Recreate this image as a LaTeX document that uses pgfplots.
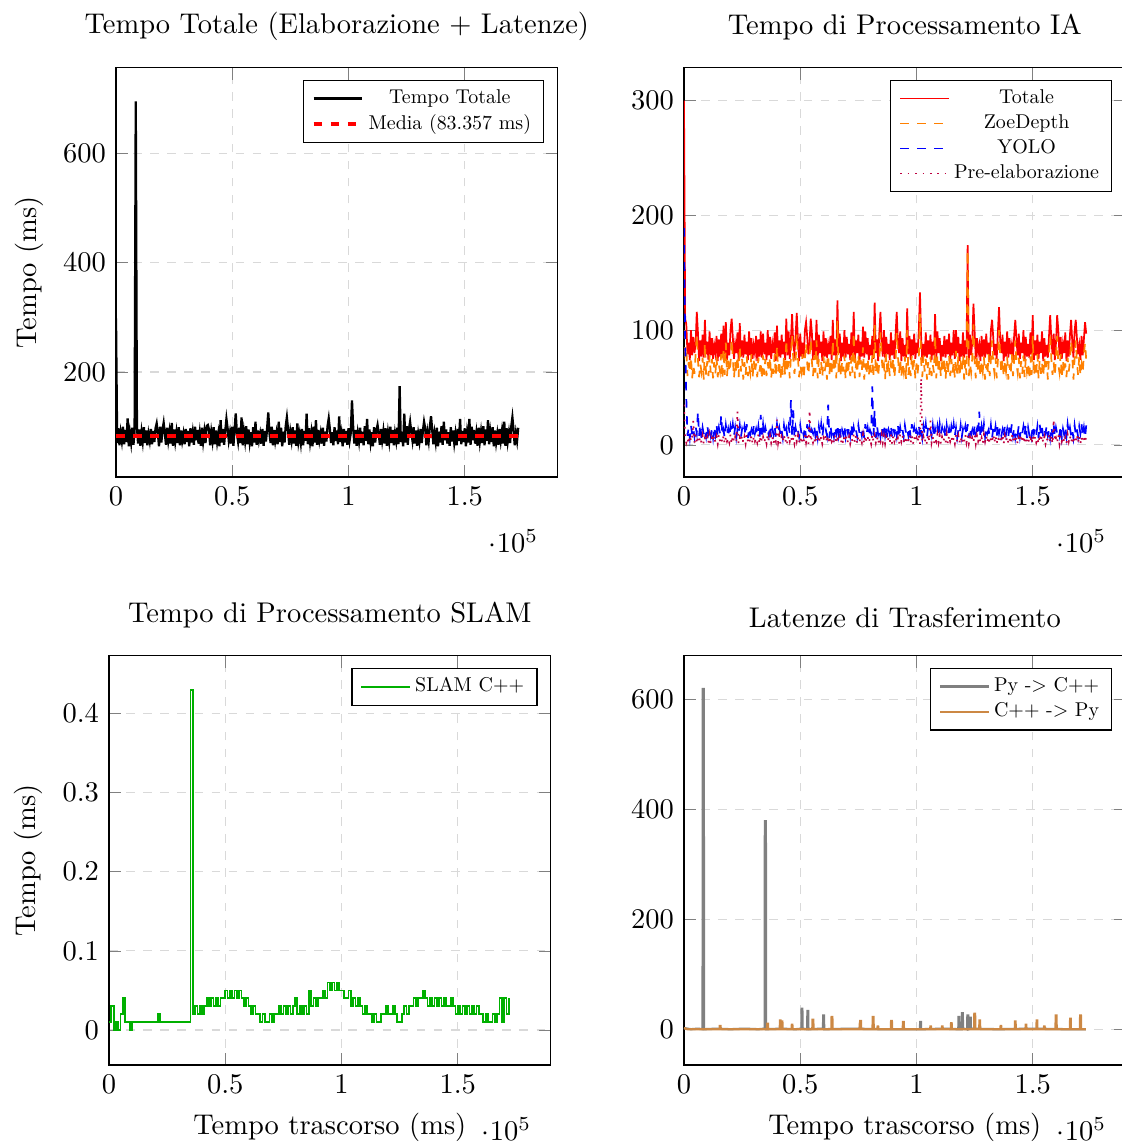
\documentclass[border=0pt]{standalone}
\usepackage{graphicx}
\usepackage{pgfplots}
\pgfplotsset{compat=1.18}
\newcommand{\legtxt}[1]{\scalebox{0.7}{\normalsize #1}}
\definecolor{cpyc}{RGB}{128,128,128}
\definecolor{ccpy}{RGB}{204,136,68}
\definecolor{slamgreen}{RGB}{0,176,0}
\pgfplotsset{
  common/.style={
    scale only axis, width=155pt, height=143.7pt,
    anchor=south west,
    grid=major, grid style={dashed, gray!30},
    legend style={at={(0.97,0.97)}, anchor=north east, font=\scriptsize, nodes={inner xsep=1.5pt, inner ysep=1.2pt, text depth=0.15em}},
    legend cell align=center,
    xmin=0, xmax=190000,
  },
}
\begin{document}
\begin{tikzpicture}
% ---------- Top left ----------
\begin{axis}[common, at={(40.70pt,234.04pt)},
  title={Tempo Totale (Elaborazione + Latenze)},
  ylabel={Tempo (ms)}, ymin=8, ymax=757]
\addplot[black, thick, no markers] table[row sep=\\, header=false, x expr=\coordindex*500, y index=0] {
298\\70\\97\\66\\89\\74\\100\\68\\94\\72\\
115\\64\\88\\71\\98\\67\\91\\695\\101\\69\\
95\\65\\90\\73\\99\\70\\93\\66\\87\\74\\
96\\68\\92\\72\\97\\106\\89\\64\\100\\71\\
94\\107\\88\\67\\98\\75\\91\\69\\107\\65\\
95\\73\\90\\70\\99\\66\\93\\74\\87\\68\\
96\\72\\92\\64\\97\\71\\89\\67\\100\\75\\
94\\69\\88\\65\\98\\73\\91\\70\\101\\103\\
95\\66\\90\\74\\99\\68\\93\\72\\87\\64\\
112\\71\\96\\67\\92\\114\\97\\75\\89\\69\\
100\\65\\94\\124\\88\\73\\98\\70\\117\\66\\
91\\74\\101\\68\\95\\72\\90\\64\\99\\71\\
109\\67\\93\\75\\87\\69\\96\\65\\92\\73\\
97\\126\\89\\70\\100\\66\\94\\74\\88\\68\\
109\\72\\98\\64\\91\\71\\101\\117\\95\\67\\
90\\75\\99\\69\\93\\65\\106\\73\\87\\70\\
96\\66\\92\\74\\124\\68\\97\\72\\89\\64\\
100\\71\\112\\67\\94\\75\\88\\69\\98\\65\\
91\\73\\101\\115\\95\\70\\90\\66\\99\\74\\
93\\68\\119\\72\\87\\64\\96\\71\\92\\67\\
97\\75\\89\\148\\100\\69\\94\\65\\88\\73\\
98\\70\\91\\66\\101\\74\\114\\68\\95\\72\\
90\\64\\99\\71\\93\\103\\87\\67\\96\\75\\
92\\69\\97\\65\\89\\73\\100\\70\\94\\66\\
88\\74\\98\\68\\174\\72\\91\\64\\124\\71\\
101\\67\\95\\109\\90\\75\\99\\69\\93\\65\\
87\\73\\96\\70\\92\\109\\97\\66\\89\\74\\
100\\119\\94\\68\\88\\72\\98\\64\\91\\71\\
101\\67\\109\\75\\95\\69\\90\\65\\99\\73\\
93\\70\\87\\66\\96\\74\\114\\68\\92\\72\\
97\\64\\89\\71\\114\\67\\100\\75\\94\\69\\
88\\65\\98\\73\\91\\70\\101\\66\\95\\74\\
112\\68\\90\\72\\99\\64\\93\\71\\87\\67\\
96\\75\\92\\69\\109\\65\\97\\73\\89\\70\\
100\\117\\94\\66\\88\\74\\98\\
};
\addlegendentry{\legtxt{Tempo Totale}}
\addplot[red, dashed, line width=1.4pt, no markers] coordinates {(0,83.357) (173000,83.357)};
\addlegendentry{\legtxt{Media (83.357 ms)}}
\end{axis}
% ---------- Top right ----------
\begin{axis}[common, at={(240.00pt,234.04pt)},
  title={Tempo di Processamento IA},
  ymin=-28, ymax=329]
\addplot[red, semithick, no markers] table[row sep=\\, header=false, x expr=\coordindex*500, y index=0] {
300\\110\\105\\79\\89\\74\\100\\78\\94\\80\\
88\\116\\98\\73\\91\\77\\96\\76\\109\\79\\
90\\74\\99\\78\\93\\75\\87\\80\\95\\73\\
92\\77\\97\\76\\104\\79\\107\\74\\89\\78\\
100\\110\\94\\75\\88\\80\\98\\73\\106\\77\\
91\\76\\96\\79\\90\\74\\99\\78\\93\\75\\
87\\80\\95\\73\\92\\77\\99\\76\\97\\79\\
89\\74\\100\\78\\94\\75\\88\\80\\98\\73\\
104\\77\\91\\76\\96\\79\\90\\74\\110\\78\\
99\\75\\93\\114\\87\\80\\95\\115\\92\\73\\
97\\77\\89\\76\\100\\107\\94\\79\\88\\110\\
98\\74\\91\\78\\109\\75\\96\\80\\90\\73\\
99\\77\\93\\76\\87\\79\\95\\74\\109\\78\\
92\\75\\126\\80\\97\\73\\89\\77\\100\\76\\
94\\79\\88\\74\\98\\78\\116\\75\\91\\80\\
96\\73\\90\\77\\103\\76\\99\\79\\93\\74\\
87\\78\\95\\75\\124\\80\\92\\73\\97\\116\\
89\\77\\100\\76\\94\\79\\88\\74\\98\\78\\
91\\75\\96\\116\\90\\80\\99\\73\\93\\77\\
87\\76\\119\\79\\95\\74\\92\\78\\97\\75\\
89\\80\\100\\133\\94\\73\\88\\77\\98\\76\\
91\\79\\96\\74\\90\\78\\114\\75\\99\\80\\
93\\73\\87\\77\\95\\76\\92\\79\\97\\74\\
89\\78\\100\\75\\100\\80\\94\\73\\88\\77\\
98\\76\\91\\79\\174\\74\\96\\78\\90\\123\\
99\\75\\93\\80\\87\\73\\95\\77\\92\\76\\
97\\79\\89\\74\\100\\109\\94\\78\\88\\75\\
98\\120\\91\\80\\96\\73\\90\\77\\99\\76\\
93\\79\\87\\74\\95\\109\\92\\78\\97\\75\\
89\\80\\100\\73\\94\\77\\88\\76\\98\\79\\
113\\74\\91\\78\\96\\75\\90\\80\\99\\73\\
93\\77\\87\\76\\95\\113\\92\\79\\97\\74\\
89\\113\\100\\78\\94\\75\\88\\80\\98\\73\\
91\\77\\96\\109\\90\\76\\99\\109\\93\\79\\
87\\74\\95\\78\\92\\107\\97\\
};
\addlegendentry{\legtxt{Totale}}
\addplot[orange, semithick, dashed, no markers] table[row sep=\\, header=false, x expr=\coordindex*500, y index=0] {
100\\80\\85\\60\\72\\63\\77\\58\\70\\62\\
79\\96\\74\\59\\71\\64\\76\\57\\89\\61\\
73\\60\\78\\63\\75\\58\\72\\62\\77\\59\\
70\\64\\79\\57\\84\\61\\89\\60\\74\\63\\
71\\92\\76\\58\\73\\62\\78\\59\\86\\64\\
75\\57\\72\\61\\77\\60\\70\\63\\79\\58\\
74\\62\\71\\59\\76\\64\\73\\57\\78\\61\\
75\\60\\72\\63\\77\\58\\70\\62\\79\\59\\
86\\64\\74\\57\\71\\61\\76\\60\\92\\63\\
73\\58\\78\\96\\75\\62\\72\\97\\77\\59\\
70\\64\\79\\57\\74\\89\\71\\61\\76\\92\\
73\\60\\78\\63\\91\\58\\75\\62\\72\\59\\
77\\64\\70\\57\\79\\61\\74\\60\\91\\63\\
71\\58\\108\\62\\76\\59\\73\\64\\78\\57\\
75\\61\\72\\60\\77\\63\\98\\58\\70\\62\\
79\\59\\74\\64\\85\\57\\71\\61\\76\\60\\
73\\63\\78\\58\\105\\62\\75\\59\\72\\98\\
77\\64\\70\\57\\79\\61\\74\\60\\71\\63\\
76\\58\\73\\98\\78\\62\\75\\59\\72\\64\\
77\\57\\100\\61\\70\\60\\79\\63\\74\\58\\
71\\62\\76\\114\\73\\59\\78\\64\\75\\57\\
72\\61\\77\\60\\70\\63\\96\\58\\79\\62\\
74\\59\\71\\64\\76\\57\\73\\61\\78\\60\\
75\\63\\72\\58\\82\\62\\77\\59\\70\\64\\
79\\57\\74\\61\\170\\60\\71\\63\\76\\105\\
73\\58\\78\\62\\75\\59\\72\\64\\77\\57\\
70\\61\\79\\60\\74\\91\\71\\63\\76\\58\\
73\\100\\78\\62\\75\\59\\72\\64\\77\\57\\
70\\61\\79\\60\\74\\91\\71\\63\\76\\58\\
73\\62\\78\\59\\75\\64\\72\\57\\77\\61\\
95\\60\\70\\63\\79\\58\\74\\62\\71\\59\\
76\\64\\73\\57\\78\\95\\75\\61\\72\\60\\
77\\95\\70\\63\\79\\58\\74\\62\\71\\59\\
76\\64\\73\\91\\78\\57\\75\\91\\72\\61\\
77\\60\\70\\63\\79\\89\\74\\
};
\addlegendentry{\legtxt{ZoeDepth}}
\addplot[blue, semithick, dashed, no markers] table[row sep=\\, header=false, x expr=\coordindex*500, y index=0] {
189\\90\\40\\8\\15\\6\\17\\9\\14\\7\\
16\\10\\29\\8\\18\\6\\15\\9\\13\\7\\
17\\10\\15\\8\\14\\6\\16\\9\\18\\7\\
15\\10\\26\\8\\13\\6\\17\\9\\14\\7\\
16\\10\\18\\8\\15\\6\\13\\9\\17\\7\\
14\\10\\16\\8\\18\\6\\15\\9\\13\\7\\
17\\10\\14\\8\\16\\6\\26\\9\\18\\7\\
15\\10\\13\\8\\17\\6\\14\\9\\16\\7\\
18\\10\\15\\8\\13\\6\\17\\9\\14\\7\\
16\\10\\39\\8\\30\\6\\15\\9\\13\\7\\
17\\10\\14\\8\\16\\6\\18\\9\\15\\7\\
13\\10\\17\\8\\14\\6\\16\\9\\18\\7\\
15\\10\\13\\8\\35\\6\\17\\9\\14\\7\\
16\\10\\18\\8\\15\\6\\13\\9\\17\\7\\
14\\10\\16\\8\\18\\6\\15\\9\\13\\7\\
17\\10\\14\\8\\16\\6\\18\\9\\15\\7\\
13\\10\\51\\8\\30\\6\\17\\9\\14\\7\\
16\\10\\18\\8\\15\\6\\13\\9\\17\\7\\
14\\10\\16\\8\\18\\6\\15\\9\\13\\7\\
17\\10\\14\\8\\16\\6\\18\\9\\15\\7\\
13\\10\\17\\8\\14\\6\\16\\9\\18\\7\\
15\\10\\13\\8\\17\\6\\14\\9\\16\\7\\
18\\10\\15\\8\\13\\6\\17\\9\\14\\7\\
16\\10\\18\\8\\15\\6\\13\\9\\17\\7\\
14\\10\\16\\8\\18\\6\\15\\9\\13\\7\\
17\\10\\14\\8\\29\\6\\16\\9\\18\\7\\
15\\10\\13\\8\\17\\6\\14\\9\\16\\7\\
18\\10\\15\\8\\13\\6\\17\\9\\14\\7\\
16\\10\\18\\8\\15\\6\\13\\9\\17\\7\\
14\\10\\16\\8\\18\\6\\15\\9\\13\\7\\
17\\10\\14\\8\\16\\6\\18\\9\\15\\7\\
13\\10\\17\\8\\14\\6\\16\\9\\18\\7\\
15\\10\\13\\8\\17\\6\\14\\9\\16\\7\\
18\\10\\15\\8\\13\\6\\17\\9\\14\\7\\
16\\10\\18\\8\\15\\6\\17\\
};
\addlegendentry{\legtxt{YOLO}}
\addplot[purple, semithick, dotted, no markers] table[row sep=\\, header=false, x expr=\coordindex*500, y index=0] {
35\\8\\2\\6\\1\\8\\3\\7\\21\\2\\
9\\1\\6\\3\\7\\2\\8\\1\\6\\3\\
7\\2\\9\\1\\6\\3\\8\\2\\7\\1\\
9\\3\\6\\2\\8\\1\\7\\3\\6\\2\\
9\\1\\8\\3\\7\\2\\29\\1\\6\\3\\
8\\2\\7\\1\\9\\3\\6\\2\\8\\1\\
7\\3\\6\\2\\9\\1\\8\\3\\7\\2\\
6\\1\\9\\3\\8\\2\\7\\1\\6\\3\\
22\\2\\8\\1\\7\\3\\9\\2\\6\\1\\
8\\3\\7\\2\\6\\1\\9\\3\\8\\2\\
7\\1\\6\\3\\9\\2\\8\\1\\30\\3\\
7\\2\\6\\1\\9\\3\\8\\2\\7\\1\\
6\\3\\9\\2\\8\\1\\7\\3\\6\\2\\
9\\1\\8\\3\\7\\2\\6\\1\\9\\3\\
8\\2\\7\\1\\6\\3\\9\\2\\8\\1\\
7\\3\\6\\2\\9\\1\\8\\3\\7\\2\\
6\\1\\9\\3\\8\\2\\7\\1\\6\\3\\
9\\2\\8\\1\\7\\3\\6\\2\\9\\1\\
8\\3\\7\\2\\6\\1\\9\\3\\8\\2\\
7\\1\\6\\3\\9\\2\\8\\1\\7\\3\\
6\\2\\9\\1\\58\\3\\7\\2\\6\\1\\
9\\3\\21\\2\\7\\1\\6\\3\\9\\2\\
8\\1\\7\\3\\6\\2\\9\\1\\8\\3\\
7\\2\\6\\1\\9\\3\\8\\2\\7\\1\\
6\\3\\9\\2\\8\\1\\7\\3\\6\\2\\
9\\1\\8\\3\\7\\2\\6\\1\\9\\3\\
8\\2\\7\\1\\6\\3\\9\\2\\8\\1\\
7\\3\\6\\2\\9\\1\\8\\3\\7\\2\\
6\\1\\9\\3\\8\\2\\7\\1\\6\\3\\
9\\2\\8\\1\\7\\3\\6\\2\\9\\1\\
8\\3\\7\\2\\6\\1\\9\\3\\8\\2\\
7\\1\\6\\3\\9\\2\\8\\1\\22\\3\\
6\\2\\9\\1\\8\\3\\7\\2\\6\\1\\
9\\3\\8\\2\\7\\1\\6\\3\\9\\2\\
8\\1\\7\\3\\6\\2\\8\\
};
\addlegendentry{\legtxt{Pre-elaborazione}}
\end{axis}
% ---------- Bottom left ----------
\begin{axis}[common, at={(38.25pt,27.72pt)},
  title={Tempo di Processamento SLAM},
  xlabel={Tempo trascorso (ms)}, ylabel={Tempo (ms)},
  ymin=-0.0443, ymax=0.4734]
\addplot[slamgreen, semithick, const plot, no markers] table[row sep=\\, header=false, x expr=\coordindex*1000, y index=0] {
0.01\\0.03\\0\\0.01\\0\\0.02\\0.04\\0.01\\0.01\\0\\
0.01\\0.01\\0.01\\0.01\\0.01\\0.01\\0.01\\0.01\\0.01\\0.01\\
0.01\\0.02\\0.01\\0.01\\0.01\\0.01\\0.01\\0.01\\0.01\\0.01\\
0.01\\0.01\\0.01\\0.01\\0.01\\0.43\\0.02\\0.03\\0.02\\0.03\\
0.02\\0.03\\0.04\\0.03\\0.04\\0.03\\0.04\\0.03\\0.04\\0.04\\
0.05\\0.04\\0.05\\0.04\\0.05\\0.04\\0.05\\0.04\\0.03\\0.04\\
0.03\\0.02\\0.03\\0.02\\0.02\\0.01\\0.02\\0.01\\0.01\\0.02\\
0.01\\0.02\\0.02\\0.03\\0.02\\0.03\\0.02\\0.03\\0.02\\0.03\\
0.04\\0.02\\0.03\\0.02\\0.03\\0.02\\0.05\\0.03\\0.04\\0.03\\
0.04\\0.04\\0.05\\0.04\\0.06\\0.05\\0.06\\0.05\\0.06\\0.05\\
0.05\\0.04\\0.04\\0.05\\0.03\\0.04\\0.03\\0.04\\0.03\\0.02\\
0.03\\0.02\\0.02\\0.01\\0.02\\0.01\\0.01\\0.02\\0.02\\0.03\\
0.02\\0.02\\0.03\\0.02\\0.01\\0.01\\0.02\\0.03\\0.02\\0.03\\
0.03\\0.04\\0.03\\0.04\\0.04\\0.05\\0.04\\0.03\\0.04\\0.03\\
0.04\\0.03\\0.04\\0.03\\0.04\\0.03\\0.03\\0.04\\0.03\\0.02\\
0.03\\0.02\\0.03\\0.02\\0.03\\0.02\\0.03\\0.02\\0.03\\0.02\\
0.02\\0.01\\0.02\\0.01\\0.01\\0.02\\0.01\\0.02\\0.04\\0.01\\
0.04\\0.02\\0.04\\
};
\addlegendentry{\legtxt{SLAM C++}}
\end{axis}
% ---------- Bottom right ----------
\begin{axis}[common, at={(240.00pt,27.72pt)},
  title={Latenze di Trasferimento},
  xlabel={Tempo trascorso (ms)},
  ymin=-64, ymax=680]
\addplot[cpyc, thick, no markers] coordinates {
(0,3) (3000,1) (6000,2) (8000,1) (8100,619) (8500,619) (8600,1) (14000,2) (20000,1) (26000,2) (32000,1)
(34700,2) (34800,379) (35200,379) (35300,1) (42000,2) (48000,1)
(50500,2) (50600,38) (50900,38) (51000,2) (53000,1) (53100,34) (53400,34) (53500,1)
(59800,2) (59900,26) (60200,26) (60300,1) (72000,2) (86000,1)
(101500,1) (101600,14) (101900,14) (102000,1) (112000,2)
(118000,1) (118100,23) (118400,23) (118500,1) (119500,1) (119600,30) (119900,30) (120000,2)
(121800,1) (121900,26) (122300,26) (122400,1) (123000,2) (123100,22) (123300,22) (123400,2)
(135000,1) (150000,2) (165000,1) (172800,1)
};
\addlegendentry{\legtxt{Py -> C++}}
\addplot[ccpy, thick, no markers] coordinates {
(0,3) (1500,1) (15300,1) (15400,7) (15700,7) (15800,1)
(35700,1) (35800,11) (36100,11) (36200,1)
(41200,1) (41300,17) (41500,17) (41600,1) (42000,1) (42100,15) (42300,15) (42400,1)
(46300,1) (46400,9) (46600,9) (46700,1)
(55200,1) (55300,18) (55600,18) (55700,1)
(63400,1) (63500,23) (63800,23) (63900,1)
(75500,1) (75600,10) (75800,16) (76100,16) (76200,1)
(81100,1) (81200,23) (81500,23) (81600,1)
(83200,1) (83300,6) (83500,6) (83600,1)
(89000,1) (89100,16) (89400,16) (89500,1)
(94100,1) (94200,14) (94500,14) (94600,1)
(105900,1) (106000,6) (106200,6) (106300,1)
(110900,1) (111000,6) (111200,6) (111300,1)
(114800,1) (114900,12) (115100,12) (115200,1)
(124800,1) (124900,29) (125200,29) (125300,1)
(127000,1) (127100,17) (127300,17) (127400,1)
(136100,1) (136200,7) (136400,7) (136500,1)
(142300,1) (142400,15) (142600,15) (142700,1)
(146900,1) (147000,9) (147200,9) (147300,1)
(151600,1) (151700,17) (151900,17) (152000,1)
(154800,1) (154900,6) (155100,6) (155200,1)
(159800,1) (159900,26) (160200,26) (160300,1)
(166000,1) (166100,20) (166300,20) (166400,1)
(170300,1) (170400,26) (170700,26) (170800,1) (172800,1)
};
\addlegendentry{\legtxt{C++ -> Py}}
\end{axis}
\pgfresetboundingbox
\path[use as bounding box] (0,0) rectangle (393.34pt,401.41pt);
\end{tikzpicture}
\end{document}
